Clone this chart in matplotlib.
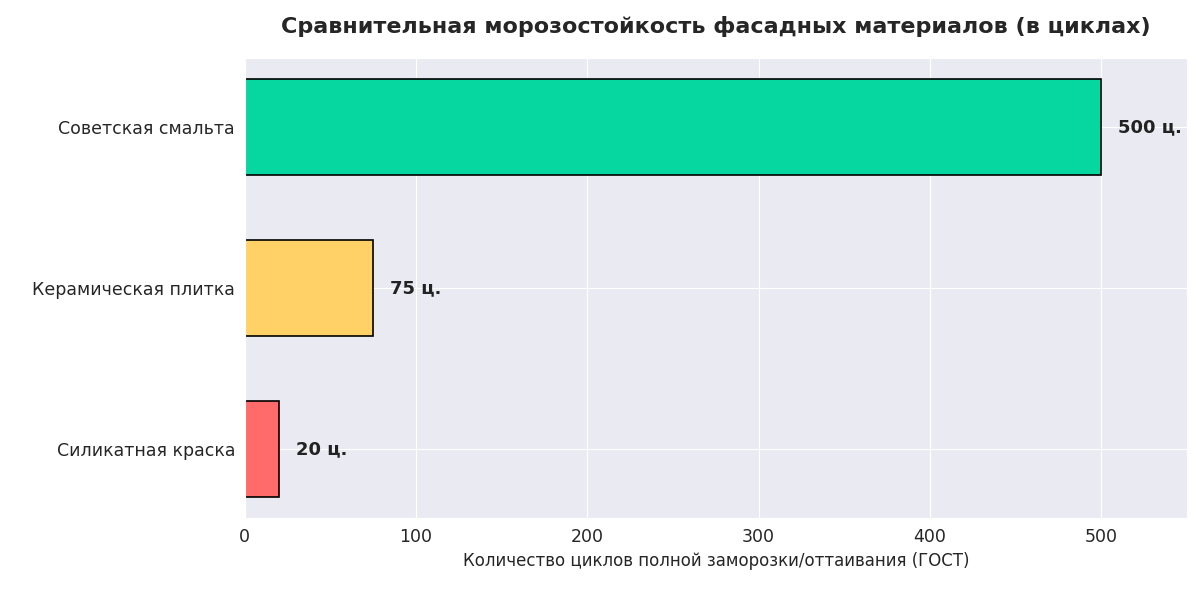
import matplotlib
matplotlib.use("Agg")
import matplotlib.pyplot as plt
import seaborn as sns

# ── Data ──────────────────────────────────────────────────────────────────────
materials = ["Силикатная краска", "Керамическая плитка", "Советская смальта"]
cycles    = [20, 75, 500]
colors    = ["#FF6B6B", "#FFD166", "#06D6A0"]

sns.set_style("darkgrid")
plt.rcParams["font.family"] = ["DejaVu Sans"]

fig, ax = plt.subplots(figsize=(12, 5.91), dpi=100)
bars = ax.barh(materials, cycles, height=0.6, color=colors, edgecolor="black", linewidth=1.2)

for bar, v in zip(bars, cycles):
    ax.text(v + 10, bar.get_y() + bar.get_height() / 2, f"{v} ц.",
            va="center", ha="left", fontsize=13, fontweight="bold", color="#222222")

ax.set_xlim(0, 550)
ax.set_xlabel("Количество циклов полной заморозки/оттаивания (ГОСТ)", fontsize=12)
ax.set_title("Сравнительная морозостойкость фасадных материалов (в циклах)",
             fontsize=16, fontweight="bold", pad=18)
ax.tick_params(axis="both", labelsize=12.5)
plt.subplots_adjust(left=0.204, right=0.989, top=0.902, bottom=0.123)
plt.savefig("out.png", dpi=100)
